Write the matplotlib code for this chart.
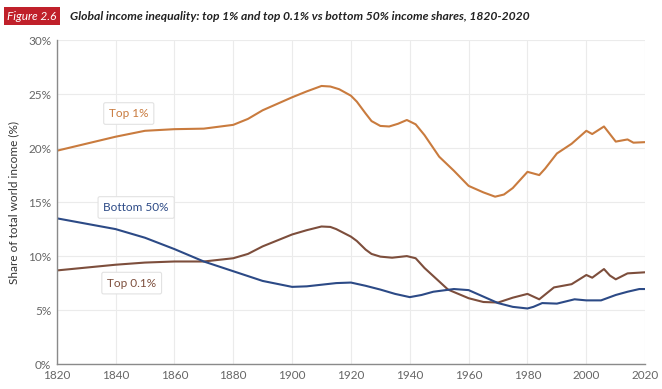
import matplotlib
matplotlib.use("Agg")
import matplotlib.pyplot as plt
from matplotlib.ticker import FuncFormatter

plt.rcParams['font.family'] = ['Lato', 'DejaVu Sans']

# top 1% share
top1_years = [1820, 1840, 1850, 1860, 1870, 1880, 1885, 1890, 1895, 1900, 1905, 1910,
              1913, 1916, 1920, 1922, 1925, 1927, 1930, 1933, 1936, 1939, 1942, 1945,
              1950, 1955, 1960, 1965, 1969, 1972, 1975, 1980, 1984, 1986, 1990, 1995,
              2000, 2002, 2006, 2008, 2010, 2014, 2016, 2020]
top1 = [19.75, 21.05, 21.6, 21.75, 21.8, 22.15, 22.7, 23.5, 24.1, 24.7, 25.25, 25.75,
        25.7, 25.45, 24.85, 24.3, 23.2, 22.5, 22.05, 22.0, 22.25, 22.6, 22.2, 21.2,
        19.2, 17.9, 16.5, 15.9, 15.5, 15.7, 16.3, 17.8, 17.5, 18.1, 19.5, 20.4,
        21.6, 21.3, 22.0, 21.3, 20.6, 20.8, 20.5, 20.55]

# top 0.1% share
top01_years = [1820, 1840, 1850, 1860, 1870, 1880, 1885, 1890, 1895, 1900, 1905, 1910,
               1913, 1915, 1920, 1922, 1925, 1927, 1930, 1934, 1939, 1942, 1945, 1947,
               1949, 1953, 1960, 1965, 1970, 1975, 1980, 1984, 1989, 1995, 2000, 2002,
               2006, 2008, 2010, 2014, 2020]
top01 = [8.67, 9.2, 9.4, 9.5, 9.5, 9.8, 10.2, 10.9, 11.45, 12.0, 12.4, 12.74,
         12.7, 12.5, 11.8, 11.4, 10.6, 10.2, 9.95, 9.85, 10.0, 9.8, 8.9, 8.4,
         7.9, 6.9, 6.1, 5.75, 5.7, 6.15, 6.5, 6.0, 7.1, 7.4, 8.25, 8.0,
         8.8, 8.2, 7.85, 8.4, 8.5]

# bottom 50% share
bot50_years = [1820, 1840, 1850, 1860, 1870, 1880, 1890, 1900, 1905, 1910, 1915, 1920,
               1925, 1930, 1935, 1940, 1944, 1948, 1955, 1960, 1965, 1970, 1975, 1980,
               1982, 1985, 1990, 1996, 2000, 2005, 2010, 2014, 2018, 2020]
bot50 = [13.5, 12.5, 11.7, 10.65, 9.5, 8.6, 7.7, 7.15, 7.2, 7.35, 7.5, 7.55,
         7.25, 6.9, 6.5, 6.2, 6.4, 6.7, 6.95, 6.85, 6.25, 5.65, 5.3, 5.15,
         5.3, 5.65, 5.6, 6.0, 5.9, 5.9, 6.4, 6.7, 6.95, 6.95]

c_top1 = '#c97b3e'
c_top01 = '#7d4e3c'
c_bot50 = '#2c4a86'

fig = plt.figure(figsize=(6.62, 3.89), dpi=100)
ax = fig.add_axes([0.0856, 0.064, 0.889, 0.833])

ax.plot(top1_years, top1, color=c_top1, lw=1.5, solid_joinstyle='round')
ax.plot(top01_years, top01, color=c_top01, lw=1.5, solid_joinstyle='round')
ax.plot(bot50_years, bot50, color=c_bot50, lw=1.5, solid_joinstyle='round')

ax.set_xlim(1820, 2020)
ax.set_ylim(0, 30)
ax.set_xticks(range(1820, 2021, 20))
ax.set_yticks(range(0, 31, 5))
ax.yaxis.set_major_formatter(FuncFormatter(lambda v, p: f'{v:.0f}%'))
ax.grid(True, color='#ebebeb', lw=0.8)
ax.set_axisbelow(True)
for s in ['top', 'right']:
    ax.spines[s].set_visible(False)
for s in ['left', 'bottom']:
    ax.spines[s].set_color('#8a8a8a')
    ax.spines[s].set_linewidth(1.0)
ax.tick_params(length=0, labelsize=8.5, labelcolor='#666666', pad=4)
ax.set_ylabel('Share of total world income (%)', fontsize=8.5, color='#333333', labelpad=6)

box = dict(boxstyle='round,pad=0.45,rounding_size=0.15', fc='white', ec='#e2e2e2', lw=0.8)
ax.text(1844.5, 23.2, 'Top 1%', color=c_top1, fontsize=8.5, ha='center', va='center', bbox=box)
ax.text(1847, 14.5, 'Bottom 50%', color=c_bot50, fontsize=8.5, ha='center', va='center', bbox=box)
ax.text(1845.5, 7.5, 'Top 0.1%', color=c_top01, fontsize=8.5, ha='center', va='center', bbox=box)

fig.text(0.011, 0.958, 'Figure 2.6', color='white', fontsize=8.6, style='italic',
         va='center', ha='left',
         bbox=dict(boxstyle='square,pad=0.3', fc='#c0202a', ec='none'))
fig.text(0.106, 0.958, 'Global income inequality: top 1% and top 0.1% vs bottom 50% income shares, 1820-2020',
         color='#222222', fontsize=8.7, style='italic', weight='bold', va='center', ha='left')

fig.savefig('out.png', dpi=100)
